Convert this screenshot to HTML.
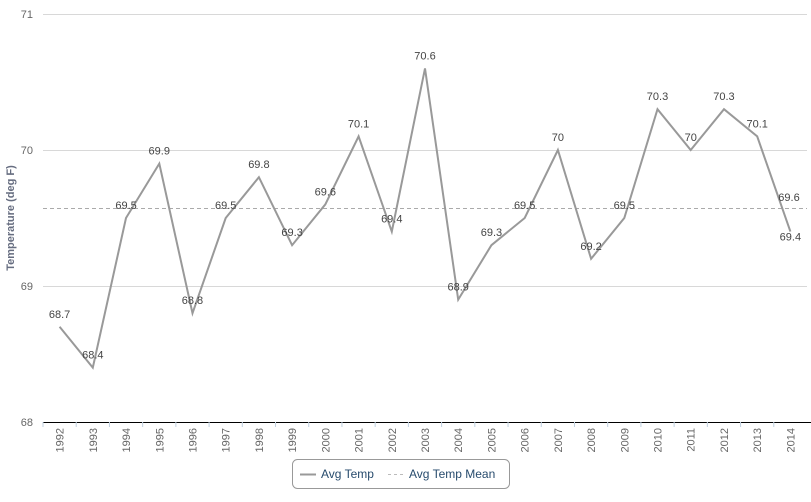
<!DOCTYPE html><html><head><style>body{margin:0;background:#fff}svg{font-family:"Liberation Sans",sans-serif}</style></head><body>
<svg width="811" height="497" xmlns="http://www.w3.org/2000/svg">
<g stroke="#d8d8d8" stroke-width="1">
<line x1="43" x2="807" y1="14.5" y2="14.5"/><line x1="43" x2="807" y1="150.5" y2="150.5"/><line x1="43" x2="807" y1="286.5" y2="286.5"/>
</g>
<line x1="43" x2="811" y1="422.5" y2="422.5" stroke="#000" stroke-width="1"/>
<g font-size="11" fill="#666" text-anchor="end">
<text x="33" y="18">71</text><text x="33" y="154">70</text><text x="33" y="290">69</text><text x="33" y="426">68</text>
</g>
<text transform="translate(14,218) rotate(-90)" text-anchor="middle" font-size="11" font-weight="bold" fill="#666d80">Temperature (deg F)</text>
<line x1="43" x2="807" y1="208.5" y2="208.5" stroke="#aaa" stroke-dasharray="4,3"/>
<g id="g"></g>
<rect x="292.5" y="459.5" width="217" height="29" rx="5" fill="#fff" stroke="#999"/>
<line x1="300" x2="316" y1="474.5" y2="474.5" stroke="#999" stroke-width="2"/>
<text x="321" y="478" font-size="12" fill="#274b6d">Avg Temp</text>
<line x1="388" x2="404" y1="474.5" y2="474.5" stroke="#bbb" stroke-dasharray="3,3"/>
<text x="409" y="478" font-size="12" fill="#274b6d">Avg Temp Mean</text>
</svg>
<script>
var d=[68.7,68.4,69.5,69.9,68.8,69.5,69.8,69.3,69.6,70.1,69.4,70.6,68.9,69.3,69.5,70,69.2,69.5,70.3,70,70.3,70.1,69.4];
var s='',pts=[],w=(807-43)/23;
d.forEach(function(v,i){var x=43+w*(i+0.5),y=150-(v-70)*136;pts.push(x.toFixed(1)+','+y.toFixed(1));
var ly=(i==22)?y+9:y-9;
s+='<text x="'+x+'" y="'+ly+'" font-size="11" fill="#444" text-anchor="middle">'+v+'</text>';
s+='<text transform="translate('+(x+4)+',428) rotate(-90)" font-size="11" fill="#666" text-anchor="end">'+(1992+i)+'</text>';
s+='<line x1="'+(43+w*i)+'" x2="'+(43+w*i)+'" y1="422" y2="427" stroke="#c0d0e0"/>';});
s='<polyline points="'+pts.join(' ')+'" fill="none" stroke="#999" stroke-width="2"/>'+s+'<text x="789" y="201" font-size="11" fill="#444" text-anchor="middle">69.6</text>';
document.getElementById('g').innerHTML=s;
</script>
</body></html>
